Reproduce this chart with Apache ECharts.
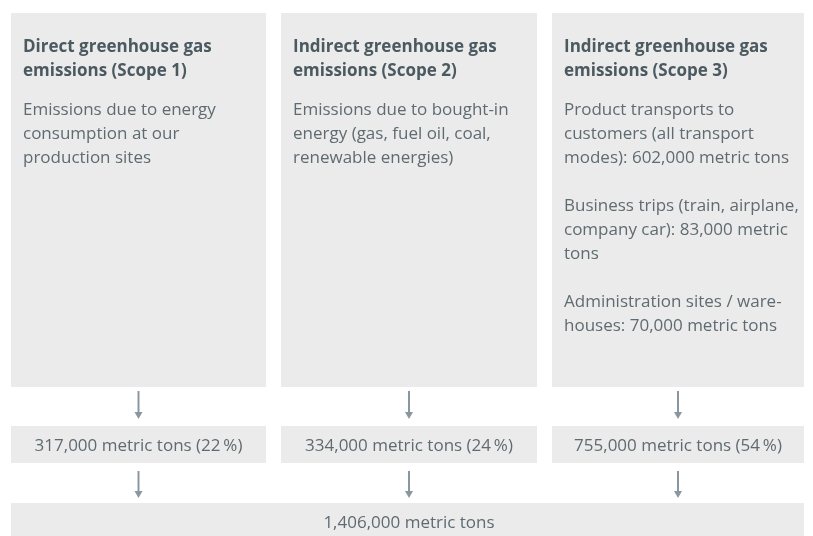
<!DOCTYPE html>
<html>
<head>
<meta charset="utf-8">
<script src="https://cdn.jsdelivr.net/npm/echarts@6/dist/echarts.min.js"></script>
<style>html,body{margin:0;padding:0;background:#fff;}#c{width:813px;height:536px;}</style>
</head>
<body>
<div id="c"></div>
<script>
// ---- data ----
const scopes = ['Scope 1', 'Scope 2', 'Scope 3'];
const scopeTitles = [
  'Direct greenhouse gas\nemissions (Scope 1)',
  'Indirect greenhouse gas\nemissions (Scope 2)',
  'Indirect greenhouse gas\nemissions (Scope 3)'
];
const scopeDescriptions = [
  'Emissions due to energy\nconsumption at our\nproduction sites',
  'Emissions due to bought-in\nenergy (gas, fuel oil, coal,\nrenewable energies)',
  null
];
const scope3Items = [
  'Product transports to\ncustomers (all transport\nmodes): ',
  'Business trips (train, airplane,\ncompany car): ',
  'Administration sites / ware-\nhouses: '
];
const scope3Tons = [602000, 83000, 70000];
const scopeTons = [317000, 334000, 755000];
const scopeShares = [22, 24, 54];
const totalTons = 1406000;
const unit = 'metric tons';

// ---- layout (styling only) ----
const colLeft = [11, 281, 552];
const colRight = [266, 537, 804];
const FONT = '"Open Sans", "Noto Sans", sans-serif';
const BOX = '#ebebeb';
const TITLE = '#4b5960';
const BODY = '#5f6b71';
const ARROW = '#8a979e';

function fmt(n) { return n.toLocaleString('en-US'); }

function scope3Text() {
  const parts = scope3Items.map(function (t, i) {
    return t + fmt(scope3Tons[i]) + ' ' + unit;
  });
  // match reference line breaks
  parts[1] = scope3Items[1] + fmt(scope3Tons[1]) + ' metric\ntons';
  return parts.join('\n\n');
}

function arrow(api, x, y0, y1) {
  const a = api.coord([x, y0]);
  const b = api.coord([x, y1]);
  return [
    { type: 'line', shape: { x1: a[0], y1: a[1], x2: b[0], y2: b[1] - 5 },
      style: { stroke: ARROW, lineWidth: 2 } },
    { type: 'polygon', shape: { points: [[b[0] - 4, b[1] - 7], [b[0] + 4, b[1] - 7], [b[0], b[1]]] },
      style: { fill: ARROW } }
  ];
}

function renderColumn(params, api) {
  const i = api.value(0);
  const l = colLeft[i], r = colRight[i];
  const cx = (l + r) / 2;
  const p0 = api.coord([l, 13]);
  const p1 = api.coord([r, 387]);
  const m0 = api.coord([l, 426]);
  const m1 = api.coord([r, 463]);
  const t = api.coord([l + 12, 34]);
  const d = api.coord([l + 12, 98]);
  const mc = api.coord([cx, 446]);
  const desc = scopeDescriptions[i] !== null ? scopeDescriptions[i] : scope3Text();
  const children = [
    { type: 'rect', shape: { x: p0[0], y: p0[1], width: p1[0] - p0[0], height: p1[1] - p0[1] }, style: { fill: BOX } },
    { type: 'text', style: { x: t[0], y: t[1] + 1, text: scopeTitles[i], font: 'bold 17px ' + FONT, fill: TITLE, lineHeight: 24, verticalAlign: 'top', align: 'left' } },
    { type: 'text', style: { x: d[0], y: d[1], text: desc, font: '17px ' + FONT, fill: BODY, lineHeight: 24, verticalAlign: 'top', align: 'left' } },
    { type: 'rect', shape: { x: m0[0], y: m0[1], width: m1[0] - m0[0], height: m1[1] - m0[1] }, style: { fill: BOX } },
    { type: 'text', style: { x: mc[0], y: mc[1], text: fmt(api.value(1)) + ' ' + unit + ' (' + api.value(2) + '\u2009%)', font: '17px ' + FONT, fill: BODY, verticalAlign: 'middle', align: 'center' } }
  ].concat(arrow(api, cx, 391, 419)).concat(arrow(api, cx, 471, 498));
  return { type: 'group', children: children };
}

function renderTotal(params, api) {
  const a = api.coord([11, 503]);
  const b = api.coord([804, 536]);
  const c = api.coord([409, 523]);
  return { type: 'group', children: [
    { type: 'rect', shape: { x: a[0], y: a[1], width: b[0] - a[0], height: b[1] - a[1] + 20 }, style: { fill: BOX } },
    { type: 'text', style: { x: c[0], y: c[1], text: fmt(api.value(0)) + ' ' + unit, font: '17px ' + FONT, fill: BODY, verticalAlign: 'middle', align: 'center' } }
  ]};
}

const chart = echarts.init(document.getElementById('c'), null, { renderer: 'canvas' });
chart.setOption({
  animation: false,
  grid: { left: 0, right: 0, top: 0, bottom: 0 },
  xAxis: { type: 'value', min: 0, max: 813, show: false },
  yAxis: { type: 'value', min: 0, max: 536, inverse: true, show: false },
  series: [
    { type: 'custom', name: 'Scopes', renderItem: renderColumn, clip: false,
      data: scopes.map(function (s, i) { return [i, scopeTons[i], scopeShares[i]]; }) },
    { type: 'custom', name: 'Total', renderItem: renderTotal, clip: true,
      data: [[totalTons]] }
  ]
});
</script>
</body>
</html>
